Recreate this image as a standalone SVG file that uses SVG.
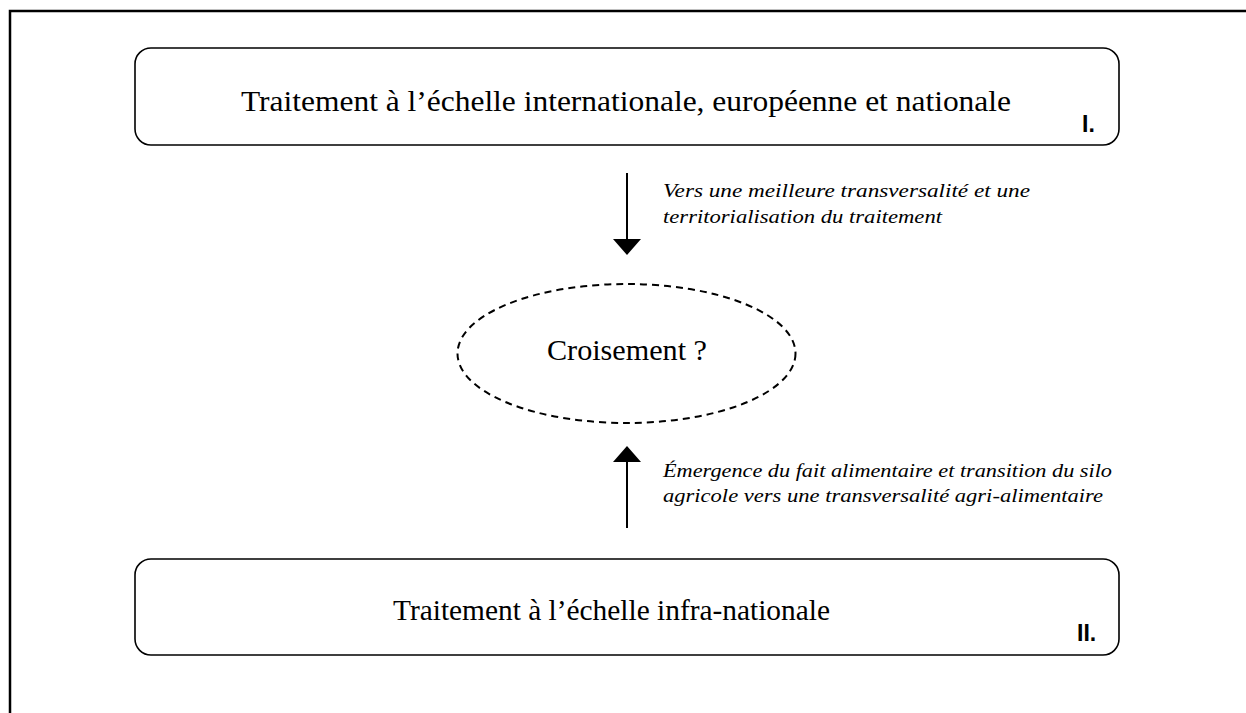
<svg xmlns="http://www.w3.org/2000/svg" width="1246" height="713" viewBox="0 0 1246 713">
<style>
.frame{fill:none;stroke:#000;stroke-width:2.5}
.box{fill:#fff;stroke:#000;stroke-width:1.6}
.main{font-family:"Liberation Serif","DejaVu Serif",serif;font-size:30px;fill:#000}
.num{font-family:"Liberation Sans",Arial,sans-serif;font-size:23px;font-weight:bold;fill:#000}
.lab{font-family:"Liberation Serif","DejaVu Serif",serif;font-size:19.5px;font-style:italic;fill:#000}
.conn{stroke:#000;stroke-width:2;fill:none}
</style>
<defs>
<marker id="ah" markerUnits="userSpaceOnUse" markerWidth="16" markerHeight="28" refX="15" refY="14" orient="auto" viewBox="0 0 16 28">
<path d="M0,0 L16,14 L0,28 z" fill="#000"/>
</marker>
</defs>
<rect width="1246" height="713" fill="#fff"/>
<path class="frame" d="M10,713 L10,11 L1246,11"/>
<g id="node-top">
<rect class="box" x="135" y="48" width="984" height="97" rx="16" ry="16"/>
<text class="main" x="241" y="111" textLength="770" lengthAdjust="spacingAndGlyphs">Traitement à l’échelle internationale, européenne et nationale</text>
<text class="num" x="1082" y="132">I.</text>
</g>
<g id="node-cross">
<ellipse cx="626.5" cy="353.5" rx="169" ry="69.5" fill="none" stroke="#000" stroke-width="2" stroke-dasharray="7,5"/>
<text class="main" x="627" y="360" text-anchor="middle" textLength="160" lengthAdjust="spacingAndGlyphs">Croisement ?</text>
</g>
<g id="node-bottom">
<rect class="box" x="135" y="559" width="984" height="96" rx="16" ry="16"/>
<text class="main" x="393" y="620" textLength="437" lengthAdjust="spacingAndGlyphs">Traitement à l’échelle infra-nationale</text>
<text class="num" x="1077" y="641">II.</text>
</g>
<g id="connectors">
<line class="conn" x1="627" y1="173" x2="627" y2="254" marker-end="url(#ah)"/>
<line class="conn" x1="627" y1="528" x2="627" y2="447" marker-end="url(#ah)"/>
<text class="lab" x="663" y="197" textLength="367" lengthAdjust="spacingAndGlyphs">Vers une meilleure transversalité et une</text>
<text class="lab" x="663" y="223" textLength="279" lengthAdjust="spacingAndGlyphs">territorialisation du traitement</text>
<text class="lab" x="663" y="477" textLength="449" lengthAdjust="spacingAndGlyphs">Émergence du fait alimentaire et transition du silo</text>
<text class="lab" x="663" y="502" textLength="440" lengthAdjust="spacingAndGlyphs">agricole vers une transversalité agri-alimentaire</text>
</g>
</svg>
